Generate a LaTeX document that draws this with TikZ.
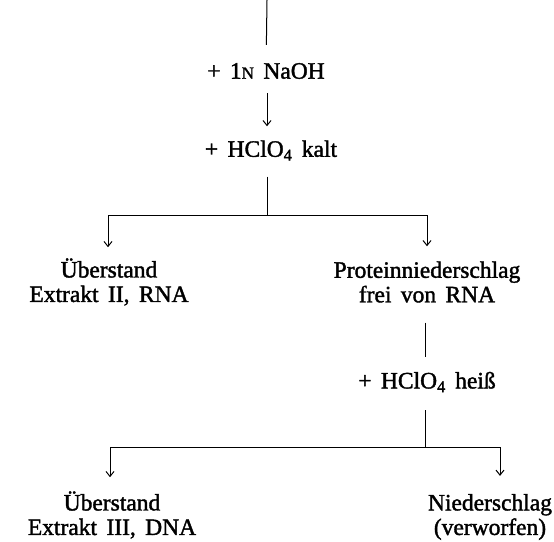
\documentclass[tikz,border=0pt]{standalone}
\usepackage{fontspec}
\setmainfont{Liberation Serif}[FakeBold=1.6, WordSpace=1.6]
\usetikzlibrary{arrows.meta}
\newcommand{\smallN}{{\fontsize{17}{17}\selectfont N}}
\begin{document}
\begin{tikzpicture}[x=1pt, y=1pt,
  every node/.style={font=\fontsize{23.5}{24.5}\selectfont, align=center, inner sep=0pt},
  link/.style={draw, line width=1pt},
  down/.style={link, -{Straight Barb[length=5pt,width=8pt]}}]
  \useasboundingbox (0,0) rectangle (554,-541);
  % Extraktion mit Lauge und kalter Perchlorsaeure
  \coordinate (start) at (267,0);
  \node (naoh) at (266,-71) {+ 1\smallN\ NaOH};
  \node (kalt) at (271,-150.5) {+ HClO\textsubscript{4} kalt};
  \coordinate (fork1) at (267,-215);
  \node (ueb1) at (109,-282) {Überstand\\Extrakt II, RNA};
  \node (prot) at (427,-282) {Proteinniederschlag\\frei von RNA};
  % heisse Perchlorsaeure
  \node (heiss) at (427,-382) {+ HClO\textsubscript{4} heiß};
  \coordinate (fork2) at (425,-447);
  \node (ueb2) at (112,-515) {Überstand\\Extrakt III, DNA};
  \node (nied) at (490,-517) {Niederschlag\\(verworfen)};

  \draw[link, shorten >=18pt] (start) -- (naoh);
  \draw[down, shorten <=14pt, shorten >=14pt] (naoh.south -| start) -- (kalt.north -| start);
  \draw[link, shorten <=16pt] (kalt.south -| fork1) -- (fork1);
  \draw[down, shorten >=11pt] (fork1) -| ([xshift=-1pt]ueb1.north);
  \draw[down, shorten >=15pt] (fork1) -| (prot);
  \draw[link, shorten <=20pt, shorten >=14.5pt] (prot.south -| fork2) -- (heiss.north -| fork2);
  \draw[link, shorten <=18pt] (heiss.south -| fork2) -- (fork2);
  \draw[down, shorten >=14pt] (fork2) -| ([xshift=-2pt]ueb2.north);
  \draw[down, shorten >=18pt] (fork2) -| ([xshift=10pt]nied.north);
\end{tikzpicture}
\end{document}
